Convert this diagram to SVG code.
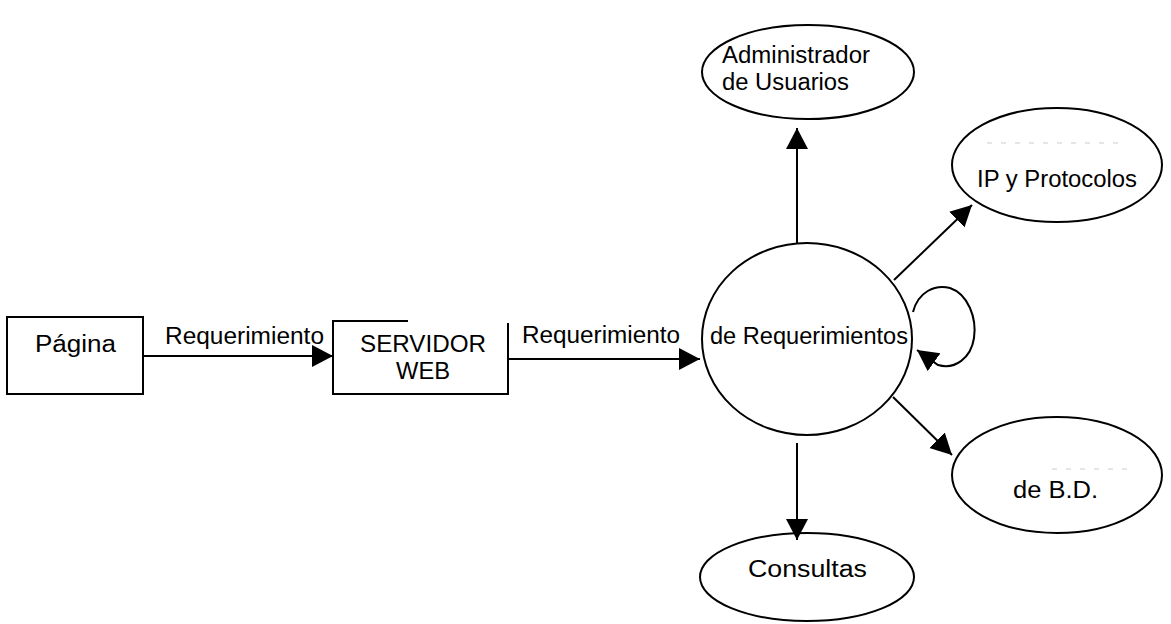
<svg xmlns="http://www.w3.org/2000/svg" width="1171" height="624" viewBox="0 0 1171 624">
<style>
.s{fill:none;stroke:#000;stroke-width:2}
.t{font-family:"Liberation Sans",Arial,sans-serif;font-size:23px;fill:#000}
.c{stroke:#000;stroke-width:2;fill:none}
.f{stroke:#ccc;stroke-width:1.2;stroke-dasharray:5 9;fill:none}
</style>
<defs>
<marker id="ah" markerUnits="userSpaceOnUse" markerWidth="24" markerHeight="24" refX="21" refY="11" orient="auto">
<path d="M0,0 L21,11 L0,22 Z" fill="#000"/>
</marker>
</defs>
<rect width="1171" height="624" fill="#fff"/>
<g id="pagina">
<rect class="s" x="7" y="317" width="136" height="77"/>
<text class="t" x="35" y="352" font-size="25" textLength="81" lengthAdjust="spacingAndGlyphs">Página</text>
</g>
<g id="servidor">
<path class="s" d="M408,321 H333 V394 H508 V323"/>
<text class="t" x="360" y="352" font-size="24" textLength="126" lengthAdjust="spacingAndGlyphs">SERVIDOR</text>
<text class="t" x="396" y="379" font-size="24" textLength="54" lengthAdjust="spacingAndGlyphs">WEB</text>
</g>
<g id="requerimientos">
<ellipse class="s" cx="807" cy="339" rx="105" ry="96"/>
<text class="t" x="710" y="344" textLength="198" lengthAdjust="spacingAndGlyphs">de Requerimientos</text>
</g>
<g id="usuarios">
<ellipse class="s" cx="808" cy="72" rx="106" ry="47"/>
<text class="t" x="722" y="63" textLength="148" lengthAdjust="spacingAndGlyphs">Administrador</text>
<text class="t" x="722" y="90" textLength="127" lengthAdjust="spacingAndGlyphs">de Usuarios</text>
</g>
<g id="protocolos">
<ellipse class="s" cx="1057" cy="165" rx="105" ry="57"/>
<path class="f" d="M987,143 H1120"/>
<text class="t" x="977" y="187" textLength="160" lengthAdjust="spacingAndGlyphs">IP y Protocolos</text>
</g>
<g id="bd">
<ellipse class="s" cx="1057" cy="475" rx="105" ry="58"/>
<path class="f" d="M1052,469 H1127"/>
<text class="t" x="1013" y="498" font-size="24" textLength="85" lengthAdjust="spacingAndGlyphs">de B.D.</text>
</g>
<g id="consultas">
<ellipse class="s" cx="807" cy="577" rx="107" ry="44"/>
<text class="t" x="748" y="577" font-size="25" textLength="119" lengthAdjust="spacingAndGlyphs">Consultas</text>
</g>
<g id="connectors">
<line class="c" x1="143" y1="356" x2="333" y2="356" marker-end="url(#ah)"/>
<text class="t" x="165" y="344" textLength="159" lengthAdjust="spacingAndGlyphs">Requerimiento</text>
<line class="c" x1="508" y1="359" x2="700" y2="359" marker-end="url(#ah)"/>
<text class="t" x="522" y="343" textLength="158" lengthAdjust="spacingAndGlyphs">Requerimiento</text>
<line class="c" x1="797" y1="243" x2="797" y2="128" marker-end="url(#ah)"/>
<line class="c" x1="894" y1="280" x2="972" y2="205" marker-end="url(#ah)"/>
<line class="c" x1="893" y1="397" x2="952" y2="455" marker-end="url(#ah)"/>
<line class="c" x1="797" y1="443" x2="797" y2="540" marker-end="url(#ah)"/>
<path class="c" stroke-width="3.5" d="M913,312 C918,292 935,284 950,288 C968,294 977,318 974,338 C971,358 955,370 938,365 L917,350" marker-end="url(#ah)"/>
</g>
</svg>
